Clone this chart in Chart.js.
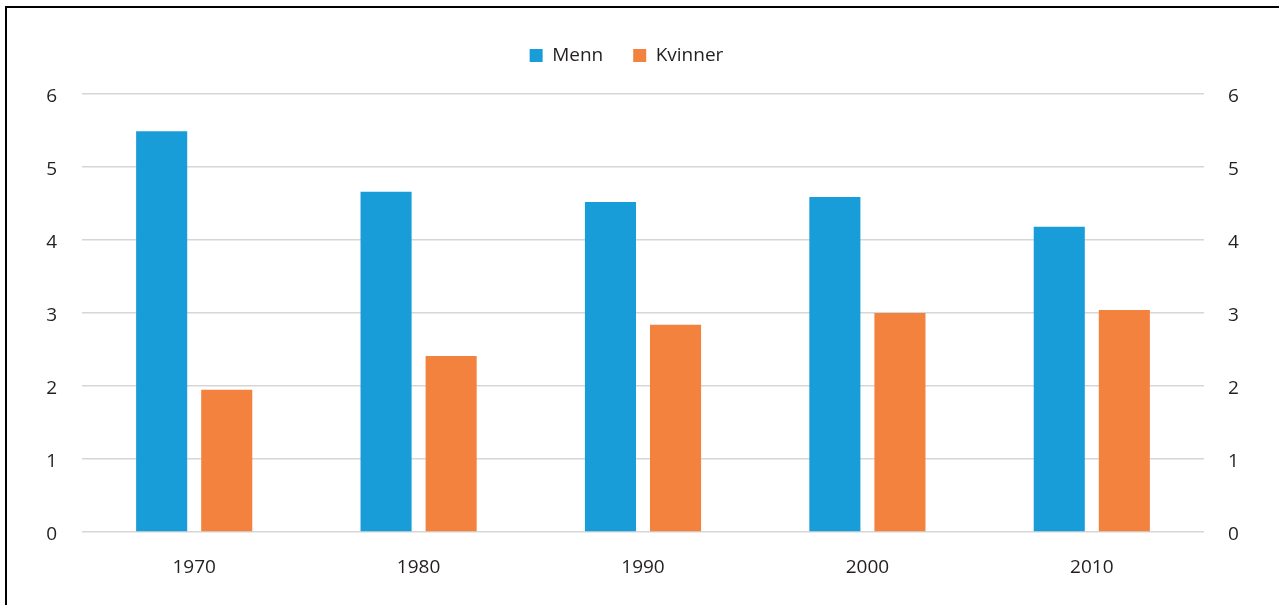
<!DOCTYPE html>
<html>
<head>
<meta charset="utf-8">
<script src="https://cdn.jsdelivr.net/npm/chart.js@4.4.1/dist/chart.umd.min.js"></script>
<style>
  html, body { margin: 0; padding: 0; background: #fff; }
  #wrap { position: relative; width: 1279px; height: 605px; }
  #frame { position: absolute; left: 5px; top: 6px; right: 0; bottom: 0; border-left: 2px solid #000; border-top: 2px solid #000; pointer-events: none; }
  canvas { position: absolute; left: 0; top: 0; }
</style>
</head>
<body>
<div id="wrap">
  <canvas id="chart" width="1279" height="605"></canvas>
  <div id="frame"></div>
</div>
<script>
const years = ["1970", "1980", "1990", "2000", "2010"];
const menn = [5.49, 4.66, 4.52, 4.59, 4.18];
const kvinner = [1.95, 2.41, 2.84, 3.0, 3.04];
const yTicks = [0, 1, 2, 3, 4, 5, 6];

const FONT = "'Open Sans', 'Noto Sans', sans-serif";
const TEXT = "#231f20";

// legend box sits in a fixed band above the plot area, nudged a bit left
const legendBand = {
  id: "legendBand",
  beforeLayout(chart) {
    const lg = chart.legend;
    if (lg && !lg._patched) {
      const fit = lg.fit;
      lg.fit = function () {
        fit.call(this);
        this.height = 78;
      };
      lg._patched = true;
    }
  },
  afterLayout(chart) {
    const lg = chart.legend;
    if (lg) {
      lg.left -= 13;
      lg.right -= 13;
    }
  },
};

const tickCfg = (pad) => ({
  min: 0,
  max: 6,
  afterBuildTicks: (axis) => {
    axis.ticks = yTicks.map((v) => ({ value: v }));
  },
  ticks: { color: TEXT, padding: pad, labelOffset: 3, font: { family: FONT, size: 19 } },
  border: { display: false },
});

new Chart(document.getElementById("chart").getContext("2d"), {
  type: "bar",
  data: {
    labels: years,
    datasets: [
      {
        label: "Menn",
        data: menn,
        backgroundColor: "#199dd9",
        barPercentage: 0.785,
        categoryPercentage: 0.58,
      },
      {
        label: "Kvinner",
        data: kvinner,
        backgroundColor: "#f3823f",
        barPercentage: 0.785,
        categoryPercentage: 0.58,
      },
    ],
  },
  options: {
    responsive: false,
    animation: false,
    layout: { padding: { top: 16, right: 0, bottom: 0, left: 0 } },
    plugins: {
      legend: {
        position: "top",
        labels: {
          boxWidth: 13,
          boxHeight: 13,
          padding: 30,
          color: TEXT,
          font: { family: FONT, size: 19 },
        },
      },
      tooltip: { enabled: false },
    },
    scales: {
      x: {
        grid: { display: false },
        border: { display: false },
        ticks: { color: TEXT, padding: 16, font: { family: FONT, size: 19 } },
        afterFit: (axis) => { axis.height = 73; },
      },
      y: Object.assign(tickCfg(25), {
        position: "left",
        grid: { color: "#d6d6d6", lineWidth: 1.5, drawTicks: false },
        afterFit: (axis) => { axis.width = 82; },
      }),
      y2: Object.assign(tickCfg(24), {
        position: "right",
        grid: { display: false, drawTicks: false },
        afterFit: (axis) => { axis.width = 75; },
      }),
    },
  },
  plugins: [legendBand],
});
</script>
</body>
</html>
